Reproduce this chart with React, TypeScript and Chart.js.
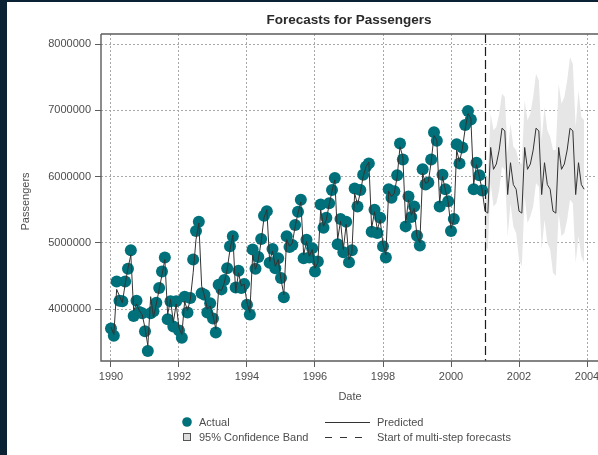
import React, { useEffect, useRef } from "react";
import { Chart, registerables } from "chart.js";

Chart.register(...registerables);

// Monthly series, Jan 1990 .. Dec 2000 (millions of passengers)
const START_YEAR = 1990;
const FORECAST_START = 2001;

const actual = [
  3.71, 3.60, 4.42, 4.13, 4.12, 4.42, 4.61, 4.89, 3.90, 4.13, 3.96, 3.94,
  3.67, 3.37, 3.94, 3.97, 4.10, 4.32, 4.57, 4.78, 3.85, 4.12, 3.74, 4.12,
  3.68, 3.57, 4.19, 3.95, 4.17, 4.75, 5.18, 5.32, 4.24, 4.22, 3.95, 4.09,
  3.86, 3.65, 4.37, 4.30, 4.44, 4.62, 4.95, 5.10, 4.33, 4.58, 4.32, 4.38,
  4.07, 3.92, 4.90, 4.61, 4.79, 5.06, 5.41, 5.48, 4.70, 4.91, 4.62, 4.77,
  4.47, 4.18, 5.10, 4.94, 4.97, 5.27, 5.47, 5.65, 4.77, 5.05, 4.78, 4.92,
  4.57, 4.72, 5.58, 5.23, 5.38, 5.60, 5.80, 5.98, 4.98, 5.36, 4.86, 5.32,
  4.71, 4.89, 5.82, 5.55, 5.80, 6.03, 6.15, 6.20, 5.17, 5.50, 5.15, 5.38,
  4.95, 4.78, 5.81, 5.68, 5.78, 6.02, 6.50, 6.26, 5.25, 5.70, 5.39, 5.55,
  5.11, 4.96, 6.11, 5.88, 5.91, 6.26, 6.67, 6.54, 5.55, 6.03, 5.81, 5.63,
  5.18, 5.36, 6.49, 6.20, 6.44, 6.78, 6.99, 6.86, 5.81, 6.21, 6.02, 5.79,
];

// One-step-ahead predictions over the same months
const fitted = [
  3.73, 3.62, 4.30, 4.20, 4.10, 4.38, 4.62, 4.82, 3.98, 4.08, 3.98, 3.92,
  3.72, 3.45, 4.19, 3.88, 4.08, 4.30, 4.52, 4.75, 3.92, 4.15, 3.80, 4.08,
  3.72, 3.62, 4.12, 3.98, 4.15, 4.55, 5.05, 5.30, 4.35, 4.20, 4.00, 4.05,
  3.90, 3.70, 4.30, 4.28, 4.40, 4.60, 4.90, 5.12, 4.25, 4.55, 4.35, 4.38,
  4.10, 3.95, 4.82, 4.60, 4.75, 5.02, 5.38, 5.50, 4.72, 4.88, 4.65, 4.75,
  4.45, 4.22, 5.05, 4.95, 5.00, 5.25, 5.45, 5.62, 4.82, 5.02, 4.80, 4.90,
  4.62, 4.70, 5.50, 5.25, 5.35, 5.58, 5.78, 5.95, 5.05, 5.33, 4.90, 5.28,
  4.75, 4.85, 5.75, 5.58, 5.76, 6.00, 6.15, 6.22, 5.22, 5.47, 5.20, 5.35,
  4.98, 4.82, 5.78, 5.70, 5.75, 6.00, 6.45, 6.30, 5.30, 5.65, 5.42, 5.52,
  5.10, 5.00, 6.05, 5.90, 5.92, 6.22, 6.62, 6.55, 5.60, 6.00, 5.80, 5.62,
  5.22, 5.35, 6.40, 6.22, 6.42, 6.72, 6.95, 6.88, 5.88, 6.18, 6.00, 5.80,
];

// Multi-step forecasts, Jan 2001 .. Dec 2003
const forecast = [
  5.48, 5.45, 6.44, 6.11, 6.19, 6.40, 6.73, 6.69, 5.73, 6.21, 5.88, 5.81,
  5.48, 5.45, 6.44, 6.11, 6.19, 6.40, 6.73, 6.69, 5.73, 6.21, 5.88, 5.81,
  5.48, 5.45, 6.44, 6.11, 6.19, 6.40, 6.73, 6.69, 5.73, 6.21, 5.88, 5.81,
];
const forecastUpper = [
  6.00, 6.00, 6.95, 6.70, 6.75, 6.95, 7.25, 7.20, 6.35, 6.80, 6.45, 6.40,
  6.20, 6.20, 7.15, 6.85, 6.95, 7.20, 7.55, 7.45, 6.55, 7.05, 6.70, 6.60,
  6.40, 6.40, 7.40, 7.10, 7.20, 7.45, 7.80, 7.70, 6.75, 7.30, 6.90, 6.85,
];
const forecastLower = [
  4.95, 4.90, 5.90, 5.55, 5.60, 5.80, 6.15, 6.10, 5.10, 5.60, 5.25, 5.15,
  4.75, 4.65, 5.70, 5.30, 5.40, 5.55, 5.90, 5.85, 4.90, 5.35, 5.00, 4.90,
  4.55, 4.50, 5.45, 5.10, 5.15, 5.35, 5.65, 5.60, 4.70, 5.10, 4.80, 4.70,
];

const xTicks = [1990, 1992, 1994, 1996, 1998, 2000, 2002, 2004];
const yTicks = [4000000, 5000000, 6000000, 7000000, 8000000];

const MILLION = 1000000;
const monthDate = (i: number) => START_YEAR + i / 12;

const TEAL = "#00707a";
const BAND = "#e6e6e6";
const LINE = "#333333";
const AXIS = "#5c5c5c";
const TEXT = "#4d4d4d";
const FONT = "'Liberation Sans', Arial, sans-serif";

const decorations = {
  id: "decorations",
  afterDatasetsDraw(chart: any) {
    const { ctx, chartArea: a, scales } = chart;
    const x = scales.x;
    const vx = Math.round(x.getPixelForValue(FORECAST_START)) + 0.5;
    ctx.save();
    // start of multi-step forecasts
    ctx.strokeStyle = "#1c1c1c";
    ctx.lineWidth = 1.2;
    ctx.setLineDash([9, 4]);
    ctx.beginPath();
    ctx.moveTo(vx, a.top);
    ctx.lineTo(vx, a.bottom);
    ctx.stroke();
    ctx.setLineDash([]);
    // frame
    ctx.strokeStyle = AXIS;
    ctx.lineWidth = 1.4;
    ctx.beginPath();
    ctx.moveTo(a.left, a.top);
    ctx.lineTo(chart.width, a.top);
    ctx.moveTo(a.left, a.top);
    ctx.lineTo(a.left, a.bottom);
    ctx.lineTo(chart.width, a.bottom);
    ctx.stroke();
    ctx.restore();
  },
  afterDraw(chart: any) {
    const { ctx, chartArea: a } = chart;
    ctx.save();
    // title
    ctx.fillStyle = "#2a2a2a";
    ctx.font = `bold 13.5px ${FONT}`;
    ctx.textAlign = "center";
    ctx.textBaseline = "middle";
    ctx.fillText("Forecasts for Passengers", (a.left + a.right) / 2, 20.5);
    // axis titles
    ctx.fillStyle = TEXT;
    ctx.font = `11px ${FONT}`;
    ctx.fillText("Date", (a.left + a.right) / 2 + 1, 397);
    ctx.save();
    ctx.translate(26, (a.top + a.bottom) / 2 + 4);
    ctx.rotate(-Math.PI / 2);
    ctx.fillText("Passengers", 0, 0);
    ctx.restore();
    // legend
    ctx.textAlign = "left";
    ctx.fillStyle = TEAL;
    ctx.beginPath();
    ctx.arc(187, 422, 4.8, 0, Math.PI * 2);
    ctx.fill();
    ctx.fillStyle = "#dcdcdc";
    ctx.fillRect(183.5, 433.5, 7, 7);
    ctx.strokeStyle = "#555";
    ctx.lineWidth = 1;
    ctx.strokeRect(183.5, 433.5, 7, 7);
    ctx.strokeStyle = LINE;
    ctx.beginPath();
    ctx.moveTo(325, 422.5);
    ctx.lineTo(370, 422.5);
    ctx.stroke();
    ctx.setLineDash([7, 8]);
    ctx.beginPath();
    ctx.moveTo(325, 437.5);
    ctx.lineTo(365, 437.5);
    ctx.stroke();
    ctx.setLineDash([]);
    ctx.fillStyle = TEXT;
    ctx.fillText("Actual", 199, 422.5);
    ctx.fillText("95% Confidence Band", 199, 437.5);
    ctx.fillText("Predicted", 377, 422.5);
    ctx.fillText("Start of multi-step forecasts", 377, 437.5);
    ctx.restore();
  },
};

export default function App() {
  const ref = useRef<HTMLCanvasElement | null>(null);

  useEffect(() => {
    if (!ref.current) return;
    const n = actual.length;
    const actualPts = actual.map((v, i) => ({ x: monthDate(i), y: v * MILLION }));
    const predictedPts = [...fitted, ...forecast].map((v, i) => ({ x: monthDate(i), y: v * MILLION }));
    const lowerPts = forecastLower.map((v, i) => ({ x: monthDate(n + i), y: v * MILLION }));
    const upperPts = forecastUpper.map((v, i) => ({ x: monthDate(n + i), y: v * MILLION }));

    const chart = new Chart(ref.current, {
      type: "line",
      data: {
        datasets: [
          { label: "lower", data: lowerPts, borderColor: "transparent", borderWidth: 0, pointRadius: 0, fill: false, order: 5 },
          { label: "95% Confidence Band", data: upperPts, borderColor: "transparent", borderWidth: 0, pointRadius: 0, fill: "-1", backgroundColor: BAND, order: 4 },
          { label: "Actual", data: actualPts, showLine: false, pointRadius: 6, pointBackgroundColor: TEAL, pointBorderWidth: 0, borderColor: TEAL, order: 3 },
          { label: "Predicted", data: predictedPts, borderColor: LINE, borderWidth: 1, pointRadius: 0, fill: false, order: 2 },
        ],
      },
      options: {
        responsive: false,
        animation: false,
        devicePixelRatio: 1,
        layout: { padding: { left: 0, top: 34, right: 43, bottom: 0 } },
        plugins: { legend: { display: false }, title: { display: false }, tooltip: { enabled: false } },
        font: { family: FONT, size: 11 },
        scales: {
          x: {
            type: "linear",
            min: 1989.706,
            max: 2004.294,
            afterBuildTicks: (s: any) => { s.ticks = xTicks.map((v) => ({ value: v })); },
            afterFit: (s: any) => { s.height = 94; },
            ticks: { color: TEXT, font: { family: FONT, size: 11 }, padding: 3, maxRotation: 0, callback: (v: any) => String(v) },
            grid: { color: "#a8a8a8", lineWidth: 1, tickLength: 6, tickColor: AXIS, tickWidth: 1, tickBorderDash: [] },
            border: { display: false, dash: [2, 2] },
          },
          y: {
            type: "linear",
            min: 3220000,
            max: 8151000,
            afterBuildTicks: (s: any) => { s.ticks = yTicks.map((v) => ({ value: v })); },
            afterFit: (s: any) => { s.width = 101; },
            ticks: { color: TEXT, font: { family: FONT, size: 11 }, padding: 4, callback: (v: any) => String(v) },
            grid: { color: "#a8a8a8", lineWidth: 1, tickLength: 6, tickColor: AXIS, tickWidth: 1, tickBorderDash: [] },
            border: { display: false, dash: [2, 2] },
          },
        },
      } as any,
      plugins: [decorations],
    });
    return () => chart.destroy();
  }, []);

  return (
    <div style={{ position: "fixed", left: 0, top: 0, width: 598, height: 455, overflow: "hidden", background: "#0b2235" }}>
      <div style={{ position: "absolute", left: 7, top: 2, right: 0, bottom: 0, background: "#ffffff" }} />
      <canvas ref={ref} width={640} height={455} style={{ position: "absolute", left: 0, top: 0, display: "block" }} />
    </div>
  );
}
